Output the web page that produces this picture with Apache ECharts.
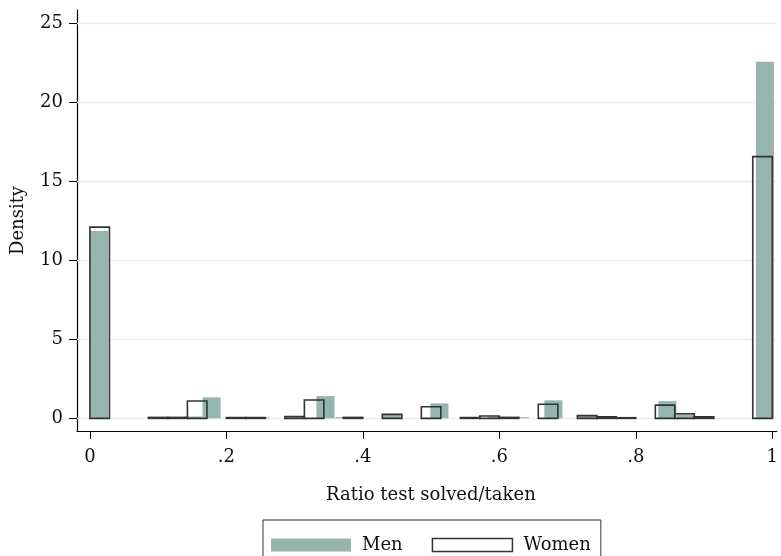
<!DOCTYPE html>
<html>
<head>
<meta charset="utf-8">
<script src="https://cdn.jsdelivr.net/npm/echarts@6/dist/echarts.min.js"></script>
<style>
  html, body { margin: 0; padding: 0; background: #fff; }
  #chart { width: 781px; height: 556px; }
</style>
</head>
<body>
<div id="chart"></div>
<script>
// histogram bins: left edge of each bin and its density
var menLeft = [0, 0.1389, 0.165, 0.237, 0.332, 0.36, 0.429, 0.499, 0.583, 0.6167, 0.666, 0.714, 0.738, 0.833, 0.86, 0.886, 0.976];
var menDensity = [11.85, 0.12, 1.33, 0.05, 1.41, 0.08, 0.22, 0.95, 0.1, 0.07, 1.14, 0.15, 0.12, 1.09, 0.25, 0.06, 22.57];
var menWidth = 0.0265;

var womenLeft = [0, 0.0857, 0.1143, 0.1429, 0.2, 0.2286, 0.2857, 0.3143, 0.3714, 0.4286, 0.4857, 0.5429, 0.5714, 0.6, 0.6571, 0.7143, 0.7429, 0.7714, 0.8286, 0.8571, 0.8857, 0.9714];
var womenDensity = [12.1, 0.06, 0.06, 1.1, 0.05, 0.05, 0.12, 1.16, 0.06, 0.25, 0.73, 0.05, 0.15, 0.06, 0.89, 0.17, 0.1, 0.04, 0.84, 0.29, 0.1, 16.56];
var womenWidth = 0.0286;

var xTicks = [0, 0.2, 0.4, 0.6, 0.8, 1];
var yTicks = [0, 5, 10, 15, 20, 25];

var FONT = 'DejaVu Serif';

function bins(left, dens, w) {
    return left.map(function (l, i) { return [l, l + w, dens[i]]; });
}

function renderBar(params, api) {
    var p0 = api.coord([api.value(0), api.value(2)]);
    var p1 = api.coord([api.value(1), 0]);
    return {
        type: 'rect',
        shape: { x: p0[0], y: p0[1], width: p1[0] - p0[0], height: p1[1] - p0[1] },
        style: api.style()
    };
}

// horizontal grid lines, drawn under the bars
function renderGridLine(params, api) {
    var cs = params.coordSys;
    var y = Math.round(api.coord([0, api.value(0)])[1]) + 0.5;
    return {
        type: 'line',
        shape: { x1: cs.x, y1: y, x2: cs.x + cs.width, y2: y },
        style: { stroke: '#e9eff1', lineWidth: 1.5 }
    };
}

var chart = echarts.init(document.getElementById('chart'));
chart.setOption({
    animation: false,
    backgroundColor: '#fff',
    textStyle: { fontFamily: FONT },
    grid: { left: 77, right: 0, top: 10, bottom: 125 },
    legend: {
        left: 263,
        top: 520,
        padding: [16, 10, 30, 8],
        borderColor: '#333',
        borderWidth: 1,
        itemWidth: 80,
        itemHeight: 13,
        itemGap: 29,
        textStyle: { fontFamily: FONT, fontSize: 18, color: '#111', padding: [0, 0, 0, 6] },
        data: [
            { name: 'Men', icon: 'rect', itemStyle: { color: '#96b5ae', borderWidth: 0 } },
            { name: 'Women', icon: 'rect', itemStyle: { color: '#fff', borderColor: '#333', borderWidth: 1.5 } }
        ]
    },
    xAxis: {
        type: 'value',
        min: -0.0189,
        max: 1.0066,
        name: 'Ratio test solved/taken',
        nameLocation: 'middle',
        nameGap: 55,
        nameTextStyle: { fontFamily: FONT, fontSize: 18, color: '#111', padding: [0, 0, 0, 8] },
        axisLine: { show: true, onZero: false, lineStyle: { color: '#000', width: 1.2 } },
        axisTick: { show: true, length: 8, customValues: xTicks, lineStyle: { color: '#000' } },
        axisLabel: {
            customValues: xTicks,
            margin: 17,
            fontFamily: FONT, fontSize: 18, color: '#111',
            formatter: function (v) { return v === 0 ? '0' : v === 1 ? '1' : String(v).replace('0.', '.'); }
        },
        splitLine: { show: false }
    },
    yAxis: {
        type: 'value',
        min: -0.8,
        max: 25.84,
        name: 'Density',
        nameLocation: 'middle',
        nameGap: 50,
        nameTextStyle: { fontFamily: FONT, fontSize: 18, color: '#111' },
        axisLine: { show: true, onZero: false, lineStyle: { color: '#000', width: 1.2 } },
        axisTick: { show: true, length: 8, customValues: yTicks, lineStyle: { color: '#000' } },
        axisLabel: { customValues: yTicks, margin: 14, fontFamily: FONT, fontSize: 18, color: '#111' },
        splitLine: { show: false }
    },
    series: [
        {
            name: 'grid',
            type: 'custom',
            renderItem: renderGridLine,
            encode: { y: 0 },
            silent: true,
            z: 1,
            data: yTicks.map(function (v) { return [v]; })
        },
        {
            name: 'Men',
            type: 'custom',
            renderItem: renderBar,
            encode: { x: [0, 1], y: 2 },
            itemStyle: { color: '#96b5ae' },
            z: 2,
            data: bins(menLeft, menDensity, menWidth)
        },
        {
            name: 'Women',
            type: 'custom',
            renderItem: renderBar,
            encode: { x: [0, 1], y: 2 },
            itemStyle: { color: 'rgba(0,0,0,0)', borderColor: '#333', borderWidth: 1.6 },
            z: 3,
            data: bins(womenLeft, womenDensity, womenWidth)
        }
    ]
});
</script>
</body>
</html>
